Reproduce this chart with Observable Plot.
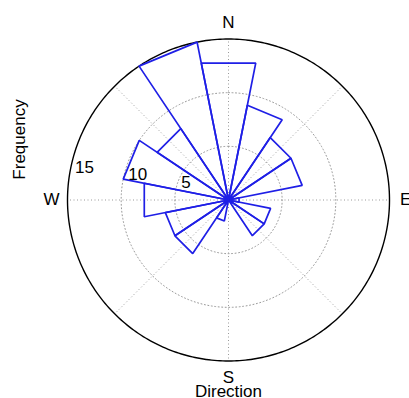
<!DOCTYPE html>
<html><head><meta charset="utf-8">
<script src="https://cdn.jsdelivr.net/npm/d3@7"></script>
<script src="https://cdn.jsdelivr.net/npm/@observablehq/plot@0.6"></script>
<style>html,body{margin:0;padding:0;background:#fff;overflow:hidden} svg{display:block}</style>
</head><body><div id="chart"></div>
<script>
// ---- data (16 compass bins, counts) ----
const directions = ["N","NNE","NE","ENE","E","ESE","SE","SSE","S","SSW","SW","WSW","W","WNW","NW","NNW"];
const frequencies = [13, 9, 7, 7, 1, 4, 4, 0, 0, 2, 6, 6, 8, 10, 8, 15];
const radialTicks = [5, 10, 15];
const compassLabels = ["N", "E", "S", "W"];
const compassAngles = [0, 90, 180, 270];
const xLabel = "Direction";
const yLabel = "Frequency";

// ---- geometry helpers ----
const rMax = d3.max(radialTicks);
const binWidth = 360 / directions.length;
const rad = a => a * Math.PI / 180;
const px = (r, a) => r * Math.sin(rad(a));   // compass angle, clockwise from north
const py = (r, a) => r * Math.cos(rad(a));
const tickAngle = 278;        // radial labels sit just above west
const labelRadius = rMax * 1.1;

const wedgePts = [];
directions.forEach((dir, i) => {
  const f = frequencies[i];
  if (!f) return;
  const c = i * binWidth;
  [[0, c], [f, c - binWidth / 2], [f, c + binWidth / 2], [0, c]]
    .forEach(([r, a]) => wedgePts.push({dir, x: px(r, a), y: py(r, a)}));
});
const ring = r => d3.range(0, 361, 1).map(a => ({r, x: px(r, a), y: py(r, a)}));
const gridRings = radialTicks.filter(t => t < rMax).flatMap(ring);
const outerRing = ring(rMax);
const spokes = d3.range(0, 360, 45).map(a => ({x: px(rMax, a), y: py(rMax, a)}));

const font = "'Liberation Sans', Arial, Helvetica, sans-serif";

const chart = Plot.plot({
  width: 409,
  height: 398,
  marginLeft: 67,
  marginRight: 20,
  marginTop: 38.5,
  marginBottom: 37.5,
  axis: null,
  x: {domain: [-rMax, rMax]},
  y: {domain: [-rMax, rMax]},
  style: {background: "white", fontFamily: font, overflow: "visible"},
  marks: [
    Plot.line(gridRings, {x: "x", y: "y", z: "r", stroke: "#9a9a9a", strokeWidth: 1, strokeDasharray: "1,2.5"}),
    Plot.link(spokes, {x1: () => 0, y1: () => 0, x2: "x", y2: "y", stroke: "#9a9a9a", strokeWidth: 1, strokeDasharray: "1,2.5"}),
    Plot.line(outerRing, {x: "x", y: "y", stroke: "black", strokeWidth: 1.4}),
    Plot.line(wedgePts, {x: "x", y: "y", z: "dir", stroke: "#1f1fe6", strokeWidth: 1.7, strokeLinejoin: "miter"}),
    Plot.text(compassLabels, {
      x: (d, i) => px(labelRadius, compassAngles[i]),
      y: (d, i) => py(labelRadius, compassAngles[i]),
      text: d => d, fontSize: 17, fill: "black"
    }),
    Plot.text(radialTicks, {
      x: v => px(v, tickAngle), y: v => py(v, tickAngle),
      text: v => String(v), textAnchor: "start", dx: 6, dy: -10.4, fontSize: 17, fill: "black"
    }),
    Plot.text([xLabel], {frameAnchor: "bottom", textAnchor: "middle", lineAnchor: "middle", text: d => d, dy: 30.5, fontSize: 17, fill: "black"}),
    Plot.text([yLabel], {frameAnchor: "left", textAnchor: "middle", lineAnchor: "middle", text: d => d, rotate: -90, dx: -47.5, dy: -60.5, fontSize: 17, fill: "black"})
  ]
});
document.getElementById("chart").appendChild(chart);
</script>
</body></html>
